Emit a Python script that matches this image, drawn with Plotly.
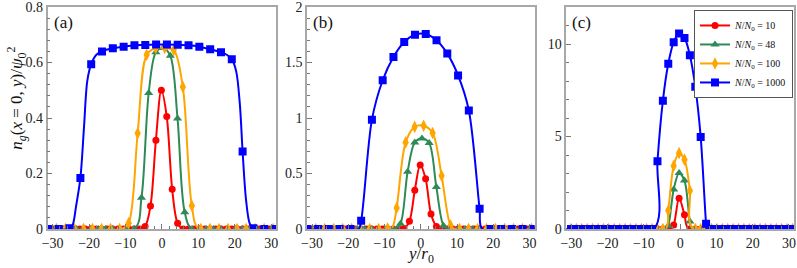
import plotly.graph_objects as go

# ---------------- data ----------------
LEGEND_LABELS = ["<i>N</i>/<i>N</i><sub>0</sub> = 10",
                 "<i>N</i>/<i>N</i><sub>0</sub> = 48",
                 "<i>N</i>/<i>N</i><sub>0</sub> = 100",
                 "<i>N</i>/<i>N</i><sub>0</sub> = 1000"]
X_TICKS = [-30, -20, -10, 0, 10, 20, 30]
Y_TICKS_A = [0, 0.2, 0.4, 0.6, 0.8]
Y_TICKS_B = [0, 0.5, 1, 1.5, 2]
Y_TICKS_C = [0, 5, 10]

# marker sample positions, panels (a) and (b)
RED_MX_AB = [-29.96, -28.47, -26.98, -25.49, -24.00, -22.51, -21.02, -19.53, -18.04, -16.55,
             -15.06, -13.57, -12.08, -10.59, -9.10, -7.61, -6.12, -4.63, -3.14, -1.65,
             -0.16, 1.33, 2.82, 4.31, 5.80, 7.29, 8.78, 10.27, 11.76, 13.25,
             14.74, 16.23, 17.72, 19.21, 20.70, 22.19, 23.68, 25.17, 26.66, 28.15, 29.64, 31.13]
GREEN_MX_AB = [-31.35, -29.37, -27.39, -25.41, -23.43, -21.45, -19.47, -17.49, -15.51, -13.53,
               -11.55, -9.57, -7.59, -5.61, -3.63, -1.65, 0.33, 2.31, 4.29, 6.27,
               8.25, 10.23, 12.21, 14.19, 16.17, 18.15, 20.13, 22.11, 24.09, 26.07, 28.05, 30.03]
ORANGE_MX_AB = [-28.98, -26.50, -24.02, -21.54, -19.06, -16.58, -14.10, -11.62, -9.14, -6.66,
                -4.18, -1.70, 0.78, 3.26, 5.74, 8.22, 10.70, 13.18, 15.66, 18.14,
                20.62, 23.10, 25.58, 28.06, 30.54]
BLUE_MX_AB = [-31.30, -28.33, -25.36, -22.39, -19.42, -16.45, -13.48, -10.51, -7.54, -4.57,
              -1.60, 1.37, 4.34, 7.31, 10.28, 13.25, 16.22, 19.19, 22.16, 25.13, 28.10, 31.07]
# marker sample positions, panel (c)
MX_C = [-30.10, -28.61, -27.12, -25.63, -24.14, -22.65, -21.16, -19.67, -18.18, -16.69,
        -15.20, -13.71, -12.22, -10.73, -9.24, -7.75, -6.26, -4.77, -3.28, -1.79,
        -0.30, 1.19, 2.68, 4.17, 5.66, 7.15, 8.64, 10.13, 11.62, 13.11,
        14.60, 16.09, 17.58, 19.07, 20.56, 22.05, 23.54, 25.03, 26.52, 28.01, 29.50, 30.99]

# marker values
RED_MY_A = [0] * 17 + [0.009, 0.083, 0.32, 0.50, 0.405, 0.143, 0.021] + [0] * 18
RED_MY_B = [0] * 17 + [0.004, 0.069, 0.348, 0.577, 0.453, 0.135, 0.023] + [0] * 18
RED_MY_C = [0] * 19 + [0.21, 1.66, 0.77] + [0] * 20
GREEN_MY_A = [0] * 13 + [0.113, 0.49, 0.637, 0.652, 0.624, 0.398, 0.06] + [0] * 12
GREEN_MY_B = [0] * 13 + [0.048, 0.516, 0.78, 0.816, 0.775, 0.378, 0.03] + [0] * 12
GREEN_MY_C = [0] * 18 + [0.18, 2.14, 3.03, 2.62, 0.41] + [0] * 19
ORANGE_MY_A = [0] * 8 + [0.021, 0.345, 0.628, 0.652, 0.652, 0.645, 0.512, 0.084] + [0] * 9
ORANGE_MY_B = [0] * 8 + [0.005, 0.19, 0.78, 0.92, 0.93, 0.865, 0.48, 0.03] + [0] * 9
ORANGE_MY_C = [0] * 18 + [1.0, 3.41, 4.1, 3.75, 2.07] + [0] * 19
BLUE_MY_A = [0, 0, 0.003, 0.184, 0.594, 0.64, 0.651, 0.657, 0.662, 0.663, 0.665,
             0.665, 0.664, 0.662, 0.657, 0.648, 0.637, 0.612, 0.279, 0.003, 0, 0]
BLUE_MY_B = [0, 0, 0, 0, 0, 0.075, 0.985, 1.34, 1.55, 1.685, 1.75,
             1.757, 1.70, 1.58, 1.384, 1.068, 0.183, 0, 0, 0, 0, 0]
BLUE_MY_C = [0] * 16 + [3.66, 6.93, 8.93, 10.1, 10.57, 10.33, 9.39, 7.69, 4.97, 0.29] + [0] * 16

# smooth curves (points along each drawn line)
RED_CX_A = [-31.4, -6.1, -4.63, -3.14, -1.65, -0.16, 1.33, 2.82, 4.31, 5.8, 31.4]
RED_CY_A = [0, 0, 0.009, 0.083, 0.32, 0.50, 0.405, 0.143, 0.021, 0, 0]
GREEN_CX_A = [-31.4, -7.6, -5.61, -3.63, -1.65, 0.33, 2.31, 4.29, 6.27, 8.3, 31.4]
GREEN_CY_A = [0, 0, 0.113, 0.49, 0.637, 0.652, 0.624, 0.398, 0.06, 0, 0]
ORANGE_CX_A = [-31.4, -11.0, -9.14, -6.66, -4.18, -1.7, 0.78, 3.26, 5.74, 8.22, 10.2, 31.4]
ORANGE_CY_A = [0, 0, 0.021, 0.345, 0.628, 0.652, 0.652, 0.645, 0.512, 0.084, 0, 0]
BLUE_CX_A = [-31.4, -25.4, -24.5, -23.6, -22.39, -21.4, -20.5, -19.42, -18.0, -16.45,
             -13.48, -10.51, -7.54, -4.57, -1.6, 1.37, 4.34, 7.31, 10.28, 13.25,
             16.22, 17.8, 19.19, 20.4, 21.4, 22.16, 23.1, 24.1, 25.13, 31.4]
BLUE_CY_A = [0, 0, 0.015, 0.08, 0.184, 0.366, 0.533, 0.594, 0.628, 0.64,
             0.651, 0.657, 0.662, 0.663, 0.665, 0.665, 0.664, 0.662, 0.657, 0.648,
             0.637, 0.628, 0.612, 0.568, 0.45, 0.279, 0.105, 0.02, 0, 0]

RED_CX_B = [-31.4, -5.6, -4.63, -3.14, -1.65, -0.16, 1.33, 2.82, 4.31, 5.5, 31.4]
RED_CY_B = [0, 0, 0.004, 0.069, 0.348, 0.577, 0.453, 0.135, 0.023, 0, 0]
GREEN_CX_B = [-31.4, -7.2, -5.61, -3.63, -1.65, 0.33, 2.31, 4.29, 6.27, 7.6, 31.4]
GREEN_CY_B = [0, 0, 0.048, 0.516, 0.78, 0.816, 0.775, 0.378, 0.03, 0, 0]
ORANGE_CX_B = [-31.4, -9.14, -7.8, -6.66, -4.18, -1.7, 0.78, 3.26, 5.74, 8.22, 9.4, 31.4]
ORANGE_CY_B = [0, 0, 0.02, 0.19, 0.78, 0.92, 0.93, 0.865, 0.48, 0.03, 0, 0]
BLUE_CX_B = [-31.4, -17.2, -16.45, -13.48, -10.51, -7.54, -4.57, -1.6, 1.37, 4.34,
             7.31, 10.28, 13.25, 16.22, 17.0, 31.4]
BLUE_CY_B = [0, 0, 0.075, 0.985, 1.34, 1.55, 1.685, 1.75, 1.757, 1.70,
             1.58, 1.384, 1.068, 0.183, 0, 0]

RED_CX_C = [-31.4, -2.6, -1.79, -0.3, 1.19, 2.4, 31.4]
RED_CY_C = [0, 0, 0.21, 1.66, 0.77, 0, 0]
GREEN_CX_C = [-31.4, -3.9, -3.28, -1.79, -0.3, 1.19, 2.68, 3.3, 31.4]
GREEN_CY_C = [0, 0, 0.18, 2.14, 3.03, 2.62, 0.41, 0, 0]
ORANGE_CX_C = [-31.4, -4.1, -3.28, -1.79, -0.3, 1.19, 2.68, 3.6, 31.4]
ORANGE_CY_C = [0, 0, 1.0, 3.41, 4.1, 3.75, 2.07, 0, 0]
BLUE_CX_C = [-31.4, -7.3, -6.26, -4.77, -3.28, -1.79, -0.3, 1.19, 2.68, 4.17, 5.66, 7.15, 7.35, 31.4]
BLUE_CY_C = [0, 0, 3.66, 6.93, 8.93, 10.1, 10.57, 10.33, 9.39, 7.69, 4.97, 0.29, 0, 0]

# ---------------- styling ----------------
COLORS = ["#ff0000", "#2e8b57", "#ffa500", "#0000ff"]
SYMBOLS = ["circle", "triangle-up", "diamond-tall", "square"]
SIZES = [7, 8, 9, 8]
FONT = "Liberation Serif, Times New Roman, DejaVu Serif, serif"

panels = [
    ("x", "y", [
        (RED_CX_A, RED_CY_A, RED_MX_AB, RED_MY_A),
        (GREEN_CX_A, GREEN_CY_A, GREEN_MX_AB, GREEN_MY_A),
        (ORANGE_CX_A, ORANGE_CY_A, ORANGE_MX_AB, ORANGE_MY_A),
        (BLUE_CX_A, BLUE_CY_A, BLUE_MX_AB, BLUE_MY_A)]),
    ("x2", "y2", [
        (RED_CX_B, RED_CY_B, RED_MX_AB, RED_MY_B),
        (GREEN_CX_B, GREEN_CY_B, GREEN_MX_AB, GREEN_MY_B),
        (ORANGE_CX_B, ORANGE_CY_B, ORANGE_MX_AB, ORANGE_MY_B),
        (BLUE_CX_B, BLUE_CY_B, BLUE_MX_AB, BLUE_MY_B)]),
    ("x3", "y3", [
        (RED_CX_C, RED_CY_C, MX_C, RED_MY_C),
        (GREEN_CX_C, GREEN_CY_C, MX_C, GREEN_MY_C),
        (ORANGE_CX_C, ORANGE_CY_C, MX_C, ORANGE_MY_C),
        (BLUE_CX_C, BLUE_CY_C, MX_C, BLUE_MY_C)]),
]

fig = go.Figure()
for xa, ya, series in panels:
    for i, (cx, cy, mx, my) in enumerate(series):
        fig.add_trace(go.Scatter(x=cx, y=cy, mode="lines", xaxis=xa, yaxis=ya,
                                 line=dict(color=COLORS[i], width=2, shape="spline", smoothing=0.9),
                                 showlegend=False, hoverinfo="skip"))
        fig.add_trace(go.Scatter(x=mx, y=my, mode="markers", xaxis=xa, yaxis=ya,
                                 marker=dict(color=COLORS[i], symbol=SYMBOLS[i], size=SIZES[i],
                                             line=dict(width=0)),
                                 showlegend=False))

for i in range(4):
    fig.add_trace(go.Scatter(x=[None], y=[None], mode="lines+markers", xaxis="x3", yaxis="y3",
                             name=LEGEND_LABELS[i],
                             line=dict(color=COLORS[i], width=2),
                             marker=dict(color=COLORS[i], symbol=SYMBOLS[i], size=SIZES[i])))

W, H = 797, 268
ML, MR, MT, MB = 0, 0, 5, 39
PH = H - MT - MB
domains = [(42, 273), (304, 534), (566, 796)]
yranges = [(0, 0.8, Y_TICKS_A, 0.04), (0, 2, Y_TICKS_B, 0.1), (0, 12, Y_TICKS_C, 1)]

axis_common = dict(showgrid=False, zeroline=False, showline=True, linecolor="#a8a8a8",
                   linewidth=1.5, mirror=True, ticks="inside", ticklen=5, tickwidth=1,
                   tickcolor="#777", ticklabeloverflow="allow",
                   tickfont=dict(family=FONT, size=14, color="#222"))
layout = dict(width=W, height=H, margin=dict(l=ML, r=MR, t=MT, b=MB),
              paper_bgcolor="white", plot_bgcolor="white",
              showlegend=True,
              legend=dict(x=795 / W, y=1 - (8 - MT) / PH, xanchor="right", yanchor="top",
                          bgcolor="white", bordercolor="#555", borderwidth=1,
                          font=dict(family=FONT, size=10, color="#111"),
                          itemwidth=30, tracegroupgap=0))
for k, (d, yr) in enumerate(zip(domains, yranges)):
    sfx = "" if k == 0 else str(k + 1)
    layout["xaxis" + sfx] = dict(axis_common, domain=[d[0] / W, d[1] / W], range=[-31.4, 31.4],
                                 tickvals=X_TICKS, anchor="y" + sfx,
                                 minor=dict(dtick=2, ticklen=3, ticks="inside", tickcolor="#777"))
    layout["yaxis" + sfx] = dict(axis_common, domain=[0, 1], range=[yr[0], yr[1]], tickvals=yr[2],
                                 anchor="x" + sfx,
                                 minor=dict(dtick=yr[3], tick0=0, ticklen=3, ticks="inside",
                                            tickcolor="#777"))
fig.update_layout(**layout)

ann = []
for lab, d in zip(["(a)", "(b)", "(c)"], domains):
    ann.append(dict(text=lab, xref="paper", yref="paper", x=(d[0] + 4) / W, y=1 - (9 - MT) / PH,
                    xanchor="left", yanchor="top", showarrow=False,
                    font=dict(family=FONT, size=17, color="#111")))
ann.append(dict(text="<i>n<sub>g</sub></i>(<i>x</i> = 0, <i>y</i>)/<i>ψ</i><sub>0</sub><sup>2</sup>",
                xref="paper", yref="paper", x=-4 / W, y=(H - MB - 97) / PH,
                xanchor="left", yanchor="middle", textangle=-90, showarrow=False,
                font=dict(family=FONT, size=17, color="#111")))
ann.append(dict(text="<i>y</i>/<i>r</i><sub>0</sub>", xref="paper", yref="paper",
                x=419 / W, y=-(255 - (H - MB)) / PH, xanchor="center", yanchor="middle",
                showarrow=False, font=dict(family=FONT, size=17, color="#111")))
fig.update_layout(annotations=ann)

fig.write_html("out.html", config={"displayModeBar": False},
               post_script="document.body.style.margin='0px';")
